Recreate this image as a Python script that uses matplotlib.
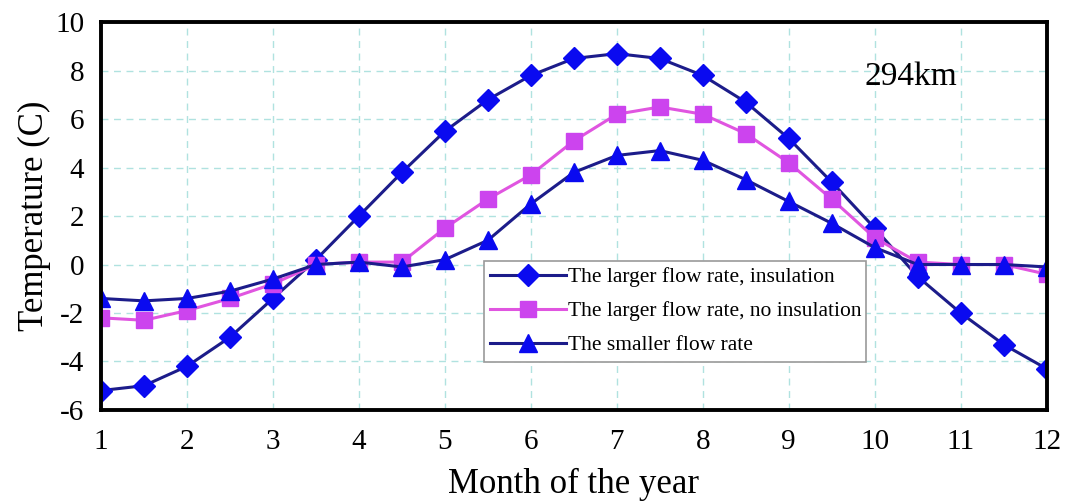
import numpy as np
import matplotlib.pyplot as plt

# month positions, every half month
months = [1, 1.5, 2, 2.5, 3, 3.5, 4, 4.5, 5, 5.5, 6, 6.5, 7, 7.5, 8, 8.5,
          9, 9.5, 10, 10.5, 11, 11.5, 12]

# larger flow rate with insulation
large_ins = [-5.2, -5.0, -4.2, -3.0, -1.4, 0.2, 2.0, 3.8, 5.5, 6.8, 7.8, 8.5,
             8.7, 8.5, 7.8, 6.7, 5.2, 3.4, 1.5, -0.5, -2.0, -3.3, -4.3]
# larger flow rate, no insulation
large_noins = [-2.2, -2.3, -1.9, -1.4, -0.8, 0.0, 0.1, 0.1, 1.5, 2.7, 3.7, 5.1,
               6.2, 6.5, 6.2, 5.4, 4.2, 2.7, 1.1, 0.1, 0.0, 0.0, -0.4]
# smaller flow rate
small = [-1.4, -1.5, -1.4, -1.1, -0.6, 0.0, 0.1, -0.1, 0.2, 1.0, 2.5, 3.8,
         4.5, 4.7, 4.3, 3.5, 2.6, 1.7, 0.7, 0.0, 0.0, 0.0, -0.1]

xticks = list(range(1, 13))
yticks = list(range(-6, 11, 2))

plt.rcParams['font.family'] = ['Liberation Serif', 'DejaVu Serif']
plt.rcParams['axes.unicode_minus'] = False

fig = plt.figure(figsize=(10.77, 5.03), dpi=100)
ax = fig.add_axes([0.0938, 0.185, 0.878, 0.771])

ax.plot(months, large_ins, color='#1c1c8a', lw=2.2, marker='D', ms=11,
        mfc='#0a0af0', mec='#0a0af0', label='The larger flow rate, insulation')
ax.plot(months, large_noins, color='#e055e0', lw=2.2, marker='s', ms=12,
        mfc='#cc44ee', mec='#cc44ee', label='The larger flow rate, no insulation')
ax.plot(months, small, color='#1c1c8a', lw=2.2, marker='^', ms=13,
        mfc='#0a0af0', mec='#0a0af0', label='The smaller flow rate')

ax.set_xlim(1, 12)
ax.set_ylim(-6, 10)
ax.set_xticks(xticks)
ax.set_yticks(yticks)
ax.tick_params(length=0, labelsize=21)
ax.tick_params(axis='x', pad=14)
ax.tick_params(axis='y', pad=12)
ax.grid(True, color='#b0e2e0', ls=(0, (5, 4)), lw=1)

for s in ax.spines.values():
    s.set_linewidth(2.8)
    s.set_zorder(5)

ax.set_xlabel('Month of the year', fontsize=25, labelpad=9)
ax.set_ylabel('Temperature (C)', fontsize=25, labelpad=3)

ax.text(9.88, 7.73, '294km', fontsize=24, va='center', ha='left')

leg = ax.legend(loc='lower left', bbox_to_anchor=(0.405, 0.124, 0.404, 0.278),
                mode='expand', fontsize=15.5, frameon=True, fancybox=False,
                framealpha=1, edgecolor='#999999', handlelength=3.5,
                borderaxespad=0, labelspacing=0.65, handletextpad=0.1,
                borderpad=0.3)
leg.get_frame().set_linewidth(1.2)

fig.savefig('out.png', dpi=100)
